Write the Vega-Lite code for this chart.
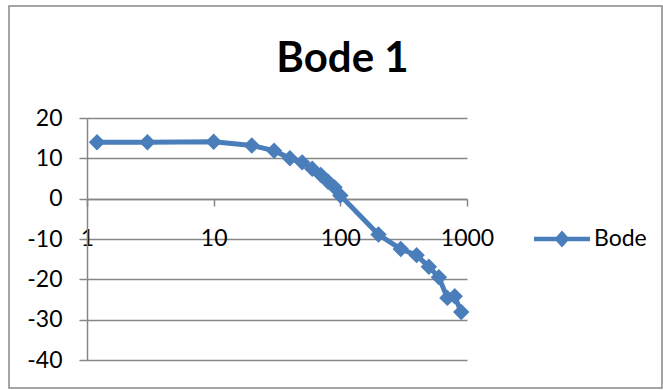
{
  "$schema": "https://vega.github.io/schema/vega-lite/v6.json",
  "width": 653,
  "height": 382,
  "autosize": {"type": "none"},
  "padding": {"left": 9, "top": 6, "right": 1, "bottom": 2},
  "background": "white",
  "config": {
    "view": {"stroke": "#868686", "strokeWidth": 1.5},
    "font": "Lato",
    "axis": {
      "labelFont": "Lato",
      "labelFontSize": 23,
      "labelColor": "black",
      "domainColor": "#868686",
      "domainWidth": 1.5,
      "tickColor": "#868686",
      "tickWidth": 1.5,
      "gridColor": "#868686",
      "gridWidth": 1.5,
      "gridOpacity": 1,
      "title": null
    }
  },
  "title": {
    "text": "Bode 1",
    "font": "Lato",
    "fontSize": 42,
    "fontWeight": "bold",
    "color": "black",
    "anchor": "middle",
    "frame": "group",
    "baseline": "alphabetic",
    "offset": 0,
    "dy": 108,
    "dx": 7
  },
  "data": {
    "values": [
      {"f": 1.2, "db": 14.0},
      {"f": 3, "db": 14.0},
      {"f": 10, "db": 14.1},
      {"f": 20, "db": 13.2},
      {"f": 30, "db": 11.9},
      {"f": 40, "db": 10.0},
      {"f": 50, "db": 9.0},
      {"f": 60, "db": 7.4},
      {"f": 70, "db": 5.9},
      {"f": 80, "db": 4.2},
      {"f": 90, "db": 2.8},
      {"f": 100, "db": 0.8},
      {"f": 200, "db": -8.9},
      {"f": 300, "db": -12.5},
      {"f": 400, "db": -14.0},
      {"f": 500, "db": -16.9},
      {"f": 600, "db": -19.5},
      {"f": 700, "db": -24.6},
      {"f": 800, "db": -24.2},
      {"f": 900, "db": -28.1}
    ]
  },
  "encoding": {
    "x": {
      "field": "f",
      "type": "quantitative",
      "scale": {"type": "log", "domain": [1, 1000], "range": [78, 458], "nice": false},
      "axis": {
        "orient": "bottom",
        "offset": -189,
        "values": [1, 10, 100, 1000],
        "labelExpr": "datum.value + ''",
        "grid": false,
        "tickSize": 7,
        "labelPadding": 32,
        "labelBaseline": "middle",
        "labelFlush": false,
        "labelOverlap": false
      }
    },
    "y": {
      "field": "db",
      "type": "quantitative",
      "scale": {"domain": [-40, 20], "range": [354, 112], "nice": false, "zero": false},
      "axis": {
        "orient": "left",
        "offset": -78,
        "values": [-40, -30, -20, -10, 0, 10, 20],
        "labelExpr": "datum.value + ''",
        "grid": true,
        "tickSize": 8,
        "labelPadding": 17,
        "labelOverlap": false
      }
    }
  },
  "layer": [
    {
      "mark": {"type": "line", "color": "#4a7ebb", "strokeWidth": 5}
    },
    {
      "mark": {"type": "point", "shape": "diamond", "filled": true, "size": 270, "opacity": 1},
      "encoding": {
        "color": {
          "datum": "Bode",
          "type": "nominal",
          "scale": {"range": ["#4a7ebb"]},
          "legend": {
            "title": null,
            "orient": "none",
            "legendX": 525,
            "legendY": 205,
            "padding": 0,
            "symbolType": "M-1,-0.08L-0.2,-0.08L0,-0.3L0.2,-0.08L1,-0.08L1,0.08L0.2,0.08L0,0.3L-0.2,0.08L-1,0.08Z",
            "symbolSize": 3136,
            "symbolStrokeWidth": 0,
            "labelFont": "Lato",
            "labelFontSize": 23,
            "labelColor": "black",
            "labelOffset": 4
          }
        }
      }
    }
  ]
}
